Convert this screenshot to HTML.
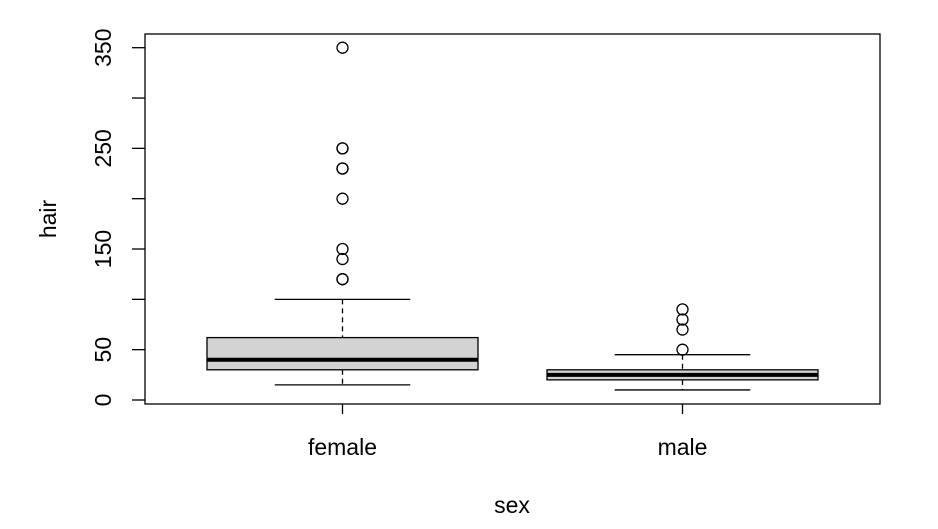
<!DOCTYPE html>
<html><head><meta charset="utf-8"><style>body{margin:0;background:#fff}svg{display:block}</style></head>
<body>
<svg id="c" width="938" height="529" xmlns="http://www.w3.org/2000/svg" font-family="Liberation Sans, sans-serif"></svg>
<script>
const categories=["female","male"];
const lowerWhisker=[15,10];
const q1=[30,20];
const medians=[40,25];
const q3=[62,30];
const upperWhisker=[100,45];
const outliersFemale=[120,120,140,150,200,230,230,250,250,350];
const outliersMale=[50,70,80,90];
const outliers=[outliersFemale,outliersMale];
const yTicks=[0,50,100,150,200,250,300,350];
const yLabels=["0","50","","150","","250","","350"];

const svg=document.getElementById('c');
const NS="http://www.w3.org/2000/svg";
const L=145,R=880,T=34,B=404;
const y=v=>400-v*(352.3/350);
const xc=i=>342.5+i*340;
const hw=135.5;
function mk(tag,attrs,name){const e=document.createElementNS(NS,tag);for(const k in attrs)e.setAttribute(k,attrs[k]);


svg.appendChild(e);return e;}
mk('rect',{x:L,y:T,width:R-L,height:B-T,fill:'none',stroke:'#000','stroke-width':1.3},'plot-frame');
yTicks.forEach((v,i)=>{
 mk('line',{x1:132,x2:L,y1:y(v),y2:y(v),stroke:'#000','stroke-width':1.3},'y-tick');
 if(yLabels[i]){const t=mk('text',{x:0,y:0,transform:`translate(111,${y(v)}) rotate(-90)`,'text-anchor':'middle','font-size':23},'y-tick-label');t.textContent=yLabels[i];}
});
categories.forEach((c,i)=>{
 const x=xc(i);
 mk('line',{x1:x,x2:x,y1:B,y2:B+10,stroke:'#000','stroke-width':1.3},'x-tick');
 const t=mk('text',{x:x,y:455,'text-anchor':'middle','font-size':23},'x-tick-label');t.textContent=c;
 mk('line',{x1:x,x2:x,y1:y(upperWhisker[i]),y2:y(q3[i]),stroke:'#000','stroke-width':1.3,'stroke-dasharray':'5,4'},'upper-whisker-'+c);
 mk('line',{x1:x,x2:x,y1:y(q1[i]),y2:y(lowerWhisker[i]),stroke:'#000','stroke-width':1.3,'stroke-dasharray':'5,4'},'lower-whisker-'+c);
 mk('line',{x1:x-hw/2,x2:x+hw/2,y1:y(upperWhisker[i]),y2:y(upperWhisker[i]),stroke:'#000','stroke-width':1.3},'upper-whisker-cap-'+c);
 mk('line',{x1:x-hw/2,x2:x+hw/2,y1:y(lowerWhisker[i]),y2:y(lowerWhisker[i]),stroke:'#000','stroke-width':1.3},'lower-whisker-cap-'+c);
 mk('rect',{x:x-hw,y:y(q3[i]),width:2*hw,height:y(q1[i])-y(q3[i]),fill:'#d3d3d3',stroke:'#000','stroke-width':1.3},'box-'+c);
 mk('line',{x1:x-hw,x2:x+hw,y1:y(medians[i]),y2:y(medians[i]),stroke:'#000','stroke-width':4},'median-'+c);
 outliers[i].forEach(v=>mk('circle',{cx:x,cy:y(v),r:5.5,fill:'none',stroke:'#000','stroke-width':1.3},'outlier-'+c));
});
const xt=mk('text',{x:512,y:513,'text-anchor':'middle','font-size':23},'x-axis-title');xt.textContent='sex';
const yt=mk('text',{x:0,y:0,transform:'translate(56,219) rotate(-90)','text-anchor':'middle','font-size':23},'y-axis-title');yt.textContent='hair';
</script>
</body></html>
